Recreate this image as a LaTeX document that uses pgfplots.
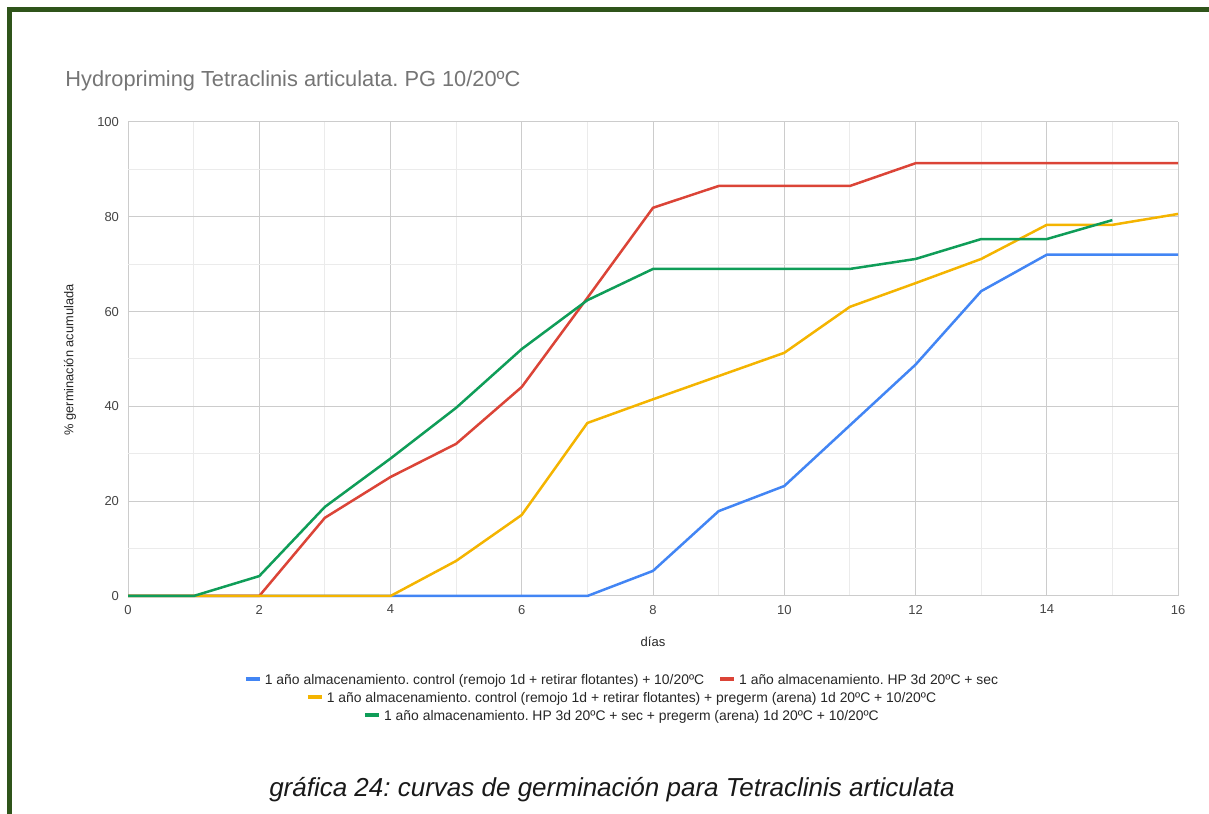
\documentclass[border=0pt]{standalone}
\usepackage{fontspec}
\setmainfont{Liberation Sans}
\usepackage{pgfplots}
\pgfplotsset{compat=1.18}

\definecolor{gblue}{HTML}{4285F4}
\definecolor{gred}{HTML}{DB4437}
\definecolor{gyellow}{HTML}{F4B400}
\definecolor{ggreen}{HTML}{0F9D58}
\definecolor{frame}{RGB}{47,84,26}
\definecolor{majgrid}{HTML}{CCCCCC}
\definecolor{mingrid}{HTML}{EBEBEB}
\definecolor{ticktext}{HTML}{444444}
\definecolor{titletext}{HTML}{757575}

\newcommand{\swatch}[1]{\textcolor{#1}{\rule[0.28em]{7bp}{2bp}}\hspace{2.5bp}}

\begin{document}
\frenchspacing
\begin{tikzpicture}
\path[use as bounding box] (0,0) rectangle (604.5bp,407bp);
% frame
\fill[frame] (3.65bp,0) rectangle (6.15bp,403.35bp);
\fill[frame] (3.65bp,400.85bp) rectangle (604.5bp,403.35bp);

\node[anchor=base west, inner sep=0, text=titletext,
      font=\fontsize{10.9bp}{12bp}\selectfont] at (32.5bp,363.5bp)
  {Hydropriming Tetraclinis articulata. PG 10/20ºC};

\begin{axis}[
    at={(64bp,109bp)}, anchor=south west,
    scale only axis, width=525bp, height=237bp,
    xmin=0, xmax=16, ymin=0, ymax=100,
    xtick={0,2,...,16}, ytick={0,20,...,100},
    minor x tick num=1, minor y tick num=1,
    grid=both,
    major grid style={draw=majgrid, line width=0.5bp},
    minor grid style={draw=mingrid, line width=0.5bp},
    extra y ticks={0}, extra y tick labels={},
    extra y tick style={grid style={draw=black!70, line width=0.9bp}},
    axis line style={draw=none},
    tick style={draw=none},
    clip=false,
    /pgf/number format/assume math mode=true,
    ticklabel style={font=\fontsize{6.5bp}{7.5bp}\selectfont, text=ticktext},
    yticklabel style={xshift=-1bp},
    xticklabel style={yshift=-1bp},
    every axis plot/.append style={line width=1.25bp, line join=round},
]
\addplot[gblue] coordinates {(0,0)(1,0)(2,0)(3,0)(4,0)(5,0)(6,0)(7,0)(8,5.3)(9,17.9)(10,23.2)(11,36)(12,48.8)(13,64.3)(14,72)(15,72)(16,72)};
\addplot[gred] coordinates {(0,0)(1,0)(2,0)(3,16.5)(4,25.1)(5,32.1)(6,44.1)(7,62.9)(8,81.9)(9,86.5)(10,86.5)(11,86.5)(12,91.3)(13,91.3)(14,91.3)(15,91.3)(16,91.3)};
\addplot[gyellow] coordinates {(0,0)(1,0)(2,0)(3,0)(4,0)(5,7.4)(6,17.1)(7,36.5)(8,41.5)(9,46.4)(10,51.3)(11,61)(12,66)(13,71.1)(14,78.3)(15,78.3)(16,80.6)};
\addplot[ggreen] coordinates {(0,0)(1,0)(2,4.2)(3,18.8)(4,29)(5,39.7)(6,52.1)(7,62.4)(8,69)(9,69)(10,69)(11,69)(12,71.1)(13,75.3)(14,75.3)(15,79.3)};
\end{axis}

\node[rotate=90, text=black!85, font=\fontsize{6.4bp}{7.5bp}\selectfont] at (35bp,227bp)
  {\% germinación acumulada};
\node[text=black!85, font=\fontsize{6.5bp}{7.5bp}\selectfont] at (326.5bp,86bp) {días};

% legend
\begin{scope}[every node/.style={inner sep=0, text=black!85, font=\fontsize{6.95bp}{8bp}\selectfont}]
\node at (311bp,66.5bp) {\swatch{gblue}1 año almacenamiento. control (remojo 1d + retirar flotantes) + 10/20ºC\hspace{8bp}\swatch{gred}1 año almacenamiento. HP 3d 20ºC + sec};
\node at (311bp,57.5bp) {\swatch{gyellow}1 año almacenamiento. control (remojo 1d + retirar flotantes) + pregerm (arena) 1d 20ºC + 10/20ºC};
\node at (311bp,48.5bp) {\swatch{ggreen}1 año almacenamiento. HP 3d 20ºC + sec + pregerm (arena) 1d 20ºC + 10/20ºC};
\end{scope}

\node[text=black!90, font=\fontsize{13bp}{15bp}\selectfont\itshape] at (306bp,12bp)
  {gráfica 24: curvas de germinación para Tetraclinis articulata};
\end{tikzpicture}
\end{document}
